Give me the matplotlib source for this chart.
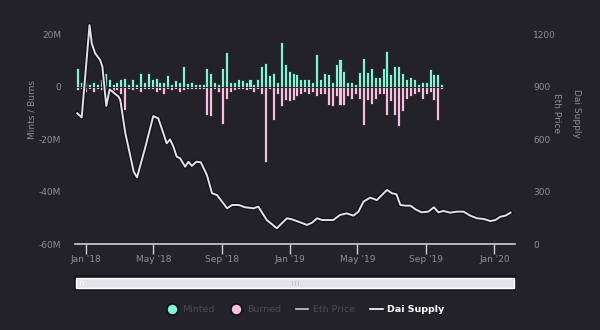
import matplotlib
matplotlib.use("Agg")
import matplotlib.pyplot as plt
import matplotlib.dates as mdates
import matplotlib.patheffects as pe
from matplotlib.lines import Line2D
from matplotlib.patches import Rectangle
import pandas as pd

# ---------------- data ----------------
bar_start = "2017-12-17"          # weekly bars
minted = [6.9, 1.9, 2.7, 1.1, 1.9, 0.8, 3.0, 5.0, 3.0, 1.1,
          1.9, 2.7, 3.4, 0.8, 2.7, 1.1, 5.0, 1.9, 5.0, 2.7,
          3.4, 1.9, 1.9, 4.2, 1.1, 2.3, 1.9, 8.0, 1.5, 1.9,
          1.1, 0.8, 1.1, 7.2, 5.0, 1.9, 0.8, 6.9, 13.0, 1.9,
          1.9, 2.7, 2.3, 1.9, 3.0, 1.1, 2.7, 8.0, 9.1, 4.2,
          5.0, 1.9, 16.8, 8.4, 6.1, 5.0, 4.6, 2.7, 2.7, 2.7,
          1.9, 12.2, 3.0, 5.0, 4.6, 1.9, 8.4, 10.3, 6.1, 1.9,
          1.9, 0.8, 5.7, 10.7, 5.7, 6.9, 3.8, 3.8, 6.9, 13.7,
          4.6, 8.0, 8.0, 5.0, 2.7, 3.8, 3.0, 0.8, 1.9, 1.9,
          6.5, 4.6, 4.6, 0.8]
burned = [-1.5, -1.1, -1.9, -1.1, -1.9, -1.1, -1.5, -2.7, -1.1, -1.9,
          -1.5, -2.7, -8.8, -1.1, -1.5, -1.1, -1.9, -1.1, -1.1, -1.1,
          -1.9, -1.5, -3.0, -1.1, -1.5, -1.1, -1.9, -1.5, -1.1, -1.1,
          -1.1, -1.1, -1.1, -10.7, -11.4, -1.1, -1.9, -14.1, -4.6, -1.9,
          -1.5, -1.1, -1.1, -1.5, -1.1, -1.9, -1.1, -2.7, -28.6, -1.1,
          -12.6, -3.0, -7.6, -5.0, -5.7, -5.0, -3.8, -2.7, -1.9, -2.7,
          -1.9, -3.8, -2.7, -3.0, -6.9, -7.6, -3.8, -6.9, -6.9, -3.8,
          -4.6, -3.0, -4.6, -14.5, -5.0, -6.5, -4.6, -3.0, -2.7, -10.7,
          -5.7, -10.7, -15.2, -9.5, -4.6, -3.8, -3.0, -1.9, -4.6, -2.7,
          -1.9, -5.0, -12.6, -0.8]

price_dates = ["2017-12-16", "2017-12-24", "2018-01-07", "2018-01-11", "2018-01-17",
               "2018-01-26", "2018-01-30", "2018-02-06", "2018-02-12", "2018-02-19",
               "2018-02-28", "2018-03-03", "2018-03-12", "2018-03-27", "2018-04-02",
               "2018-04-17", "2018-05-01", "2018-05-10", "2018-05-19", "2018-05-25",
               "2018-05-31", "2018-06-06", "2018-06-12", "2018-06-18", "2018-06-27",
               "2018-07-03", "2018-07-09", "2018-07-17", "2018-07-25", "2018-08-05",
               "2018-08-14", "2018-08-23", "2018-09-01", "2018-09-10", "2018-09-19",
               "2018-10-01", "2018-10-12", "2018-10-27", "2018-11-05", "2018-11-20",
               "2018-12-08", "2018-12-26", "2019-01-04", "2019-01-16", "2019-01-31",
               "2019-02-09", "2019-02-18", "2019-02-27", "2019-03-19", "2019-03-31",
               "2019-04-12", "2019-04-24", "2019-05-03", "2019-05-12", "2019-05-24",
               "2019-06-05", "2019-06-14", "2019-06-23", "2019-07-02", "2019-07-10",
               "2019-07-17", "2019-07-26", "2019-08-04", "2019-08-13", "2019-08-24",
               "2019-09-05", "2019-09-15", "2019-09-23", "2019-10-02", "2019-10-14",
               "2019-10-26", "2019-11-07", "2019-11-19", "2019-12-01", "2019-12-13",
               "2019-12-25", "2020-01-03", "2020-01-12", "2020-01-21", "2020-01-30"]
price = [747, 724, 1251, 1147, 1090, 1051, 1013, 789, 884, 865,
         842, 823, 634, 413, 381, 556, 731, 718, 633, 575,
         598, 556, 499, 490, 442, 470, 446, 470, 467, 394,
         290, 280, 242, 204, 223, 223, 210, 204, 213, 137,
         90, 147, 141, 127, 109, 122, 147, 137, 137, 166,
         175, 162, 185, 242, 265, 251, 280, 309, 290, 284,
         223, 219, 219, 198, 181, 185, 210, 181, 189, 179,
         185, 185, 162, 147, 143, 131, 137, 156, 162, 179]

left_ticks = [-60, -40, -20, 0, 20]
right_ticks = [0, 300, 600, 900, 1200]
legend_labels = ["Minted", "Burned", "Eth Price", "Dai Supply"]

# ---------------- style ----------------
BG = "#232228"
GREEN = "#84f3d4"
PINK = "#f7bfe2"
LINE = "#e2e2e4"
TXT = "#8e8e92"

fig = plt.figure(figsize=(6.0, 3.3), dpi=100, facecolor=BG)
W, H = 600, 330
ax = fig.add_axes([75 / W, 1 - 244 / H, 440 / W, (244 - 20.9) / H])
ax.set_facecolor(BG)
ax2 = ax.twinx()

bar_dates = pd.date_range(bar_start, periods=len(minted), freq="7D")
pdates = pd.to_datetime(price_dates)

ax.bar(bar_dates, minted, width=5.4, color=GREEN, edgecolor="#151418", linewidth=0.5, zorder=2)
ax.bar(bar_dates, burned, width=5.4, color=PINK, edgecolor="#151418", linewidth=0.5, zorder=2)

ax2.plot(pdates, price, color=LINE, lw=1.4, zorder=3,
         path_effects=[pe.Stroke(linewidth=3.2, foreground="#131216"), pe.Normal()])

ax.set_ylim(-60, 25)
ax2.set_ylim(0, 1275)
ax.set_xlim(pd.Timestamp("2017-12-12"), pd.Timestamp("2020-02-07"))

ax.set_yticks(left_ticks)
ax.set_yticklabels([("%dM" % v if v != 0 else "0") for v in left_ticks])
ax2.set_yticks(right_ticks)
ax2.set_yticklabels([str(v) for v in right_ticks])

ax.xaxis.set_major_locator(mdates.MonthLocator(bymonth=[1, 5, 9]))
ax.xaxis.set_major_formatter(mdates.DateFormatter("%b '%y"))

for a in (ax, ax2):
    for s in a.spines.values():
        s.set_visible(False)
ax.spines["bottom"].set_visible(True)
ax.spines["bottom"].set_color("#cfcfd2")
ax.spines["bottom"].set_linewidth(1.2)

ax.tick_params(axis="y", length=0, pad=10, labelsize=6.5, labelcolor=TXT)
ax2.tick_params(axis="y", length=0, pad=13, labelsize=6.5, labelcolor=TXT)
ax.tick_params(axis="x", length=7, width=1, color="#cfcfd2", pad=1,
               labelsize=6.5, labelcolor=TXT, direction="out")

fig.text(32 / W, 1 - 110 / H, "Mints / Burns", rotation=90, ha="center", va="center",
         color=TXT, fontsize=6.5)
fig.text(557 / W, 1 - 113 / H, "Eth Price", rotation=270, ha="center", va="center",
         color=TXT, fontsize=6.5)
fig.text(577 / W, 1 - 113 / H, "Dai Supply", rotation=270, ha="center", va="center",
         color=TXT, fontsize=6.5)

# scrollbar (navigator)
sb = fig.add_axes([74 / W, 1 - 291 / H, 442 / W, 16 / H])
sb.set_xlim(0, 1)
sb.set_ylim(0, 1)
sb.axis("off")
sb.add_patch(Rectangle((0, 0), 1, 1, facecolor="#16151a", edgecolor="none"))
sb.add_patch(Rectangle((0.004, 0.17), 0.992, 0.66, facecolor="#e4e4e8",
                       edgecolor="#ffffff", linewidth=1.0))
for gx in (0.493, 0.5, 0.507):
    sb.plot([gx, gx], [0.35, 0.65], color="#b9b9be", lw=0.6)
for gx in (0.014, 0.02):
    sb.plot([gx, gx], [0.35, 0.65], color="#ffffff", lw=0.6)

# legend
handles = [
    Line2D([], [], marker="o", ls="none", markersize=8, markerfacecolor=GREEN,
           markeredgecolor="#111014", markeredgewidth=1.2),
    Line2D([], [], marker="o", ls="none", markersize=8, markerfacecolor=PINK,
           markeredgecolor="#111014", markeredgewidth=1.2),
    Line2D([], [], color="#c8c8cc", lw=1.2),
    Line2D([], [], color="#ffffff", lw=1.2),
]
leg = fig.legend(handles, legend_labels, loc="center", bbox_to_anchor=(305 / W, 1 - 310 / H),
                 ncol=4, frameon=False, fontsize=6.8, handlelength=1.3,
                 handletextpad=0.5, columnspacing=1.6)
cols = ["#4a4a50", "#4a4a50", "#4a4a50", "#ffffff"]
for t, c in zip(leg.get_texts(), cols):
    t.set_color(c)
leg.get_texts()[3].set_fontweight("bold")

fig.savefig("out.png", dpi=100, facecolor=BG)
